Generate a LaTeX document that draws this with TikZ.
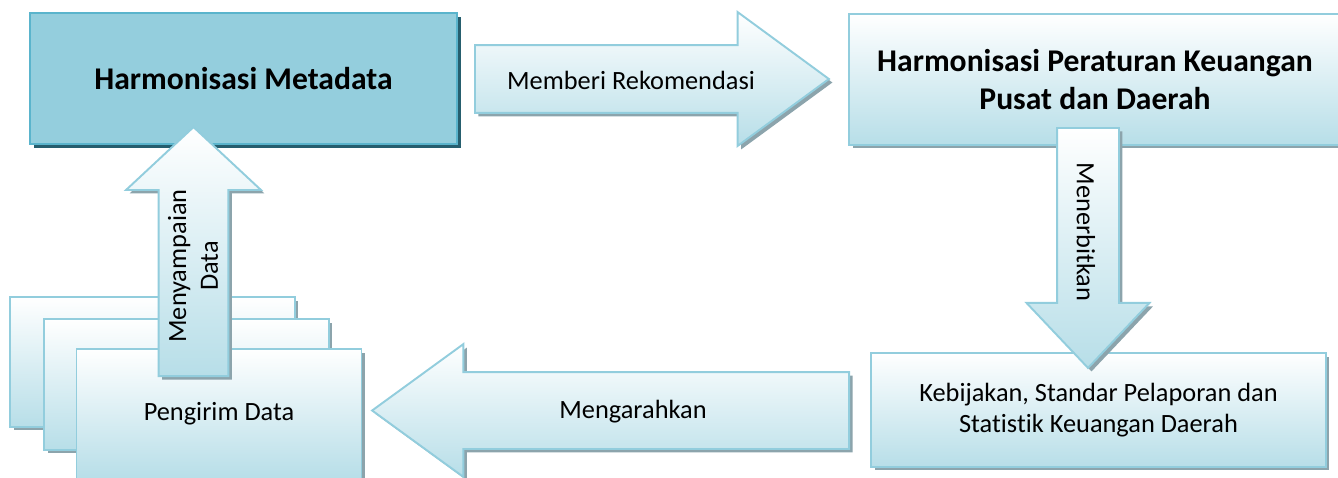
\documentclass[tikz,border=0pt]{standalone}
\usepackage{fontspec}
\setmainfont{Carlito}[Ligatures=NoCommon]
\usetikzlibrary{shapes.arrows, shadows, positioning}

\definecolor{edgeblue}{RGB}{146,205,221}
\definecolor{paleblue}{RGB}{183,222,232}
\definecolor{midteal}{RGB}{75,172,198}
\definecolor{lightteal}{RGB}{148,206,221}
\definecolor{tealedge}{RGB}{90,180,204}
\definecolor{shadegray}{RGB}{140,164,172}
\definecolor{deepteal}{RGB}{38,94,110}

\begin{document}
\begin{tikzpicture}
    [x=0.02cm, y=-0.02cm,
    softshadow/.style={drop shadow={shadow xshift=0.07cm, shadow yshift=-0.07cm, fill=shadegray, opacity=1}},
    palebox/.style={rectangle, draw=edgeblue, line width=1.1pt, top color=white, bottom color=paleblue, softshadow, align=center, inner sep=0pt, font=\fontsize{15}{18}\selectfont},
    tealbox/.style={rectangle, draw=tealedge, line width=1.1pt, top color=lightteal, middle color=midteal, bottom color=lightteal, drop shadow={shadow xshift=0.08cm, shadow yshift=-0.08cm, fill=deepteal, opacity=1}, align=center, inner sep=0pt, font=\fontsize{18}{21.5}\selectfont\bfseries},
    blockarrow/.style={single arrow, draw=edgeblue, line width=1.1pt, top color=white, bottom color=paleblue, softshadow},
    arrowtext/.style={align=center, inner sep=0pt, font=\fontsize{15}{18}\selectfont}]
    \useasboundingbox (0,0) rectangle (1338,477);

    \node[tealbox, minimum width=8.54cm, minimum height=2.62cm] (metadata) at (243.5,78.5) {Harmonisasi Metadata};

    \node[palebox, minimum width=5.7cm, minimum height=2.6cm] (sender3) at (152.5,362) {};
    \node[palebox, minimum width=5.7cm, minimum height=2.62cm] (sender2) at (186.5,384.5) {};
    \node[palebox, minimum width=5.7cm, minimum height=2.6cm] (sender1) at (219,414) {Pengirim Data};

    \node[blockarrow, anchor=tail, shape border rotate=90, inner sep=0.68cm, minimum height=4.98cm,
          single arrow head extend=0.65cm, single arrow tip angle=94] (menyampaikan) at (193.5,377) {};
    \node[arrowtext, rotate=90] (menyampaikan-text) at (193,266) {Menyampaian\\Data};

    \node[blockarrow, anchor=tail, inner sep=0.66cm, minimum height=7.08cm,
          single arrow head extend=0.66cm, single arrow tip angle=72.5] (rekomendasi) at (474,79) {};
    \node[arrowtext] (rekomendasi-text) at (631,80) {Memberi Rekomendasi};

    \node[palebox, minimum width=9.84cm, minimum height=2.62cm, font=\fontsize{18}{21.5}\selectfont\bfseries] (peraturan) at (1095,79.5)
        {Harmonisasi Peraturan Keuangan\\Pusat dan Daerah};

    \node[palebox, minimum width=9.1cm, minimum height=2.28cm] (kebijakan) at (1098.5,410)
        {Kebijakan, Standar Pelaporan dan\\Statistik Keuangan Daerah};

    \node[blockarrow, anchor=tail, shape border rotate=270, inner sep=0.6cm, minimum height=4.8cm,
          single arrow head extend=0.61cm, single arrow tip angle=86.8] (menerbitkan) at (1088,127) {};
    \node[arrowtext, rotate=-90] (menerbitkan-text) at (1086,232) {Menerbitkan};

    \node[blockarrow, anchor=tail, shape border rotate=180, inner sep=0.75cm, minimum height=9.54cm,
          single arrow head extend=0.56cm, single arrow tip angle=72.1] (mengarahkan) at (850,410.5) {};
    \node[arrowtext] (mengarahkan-text) at (633,412) {Mengarahkan};
\end{tikzpicture}
\end{document}
